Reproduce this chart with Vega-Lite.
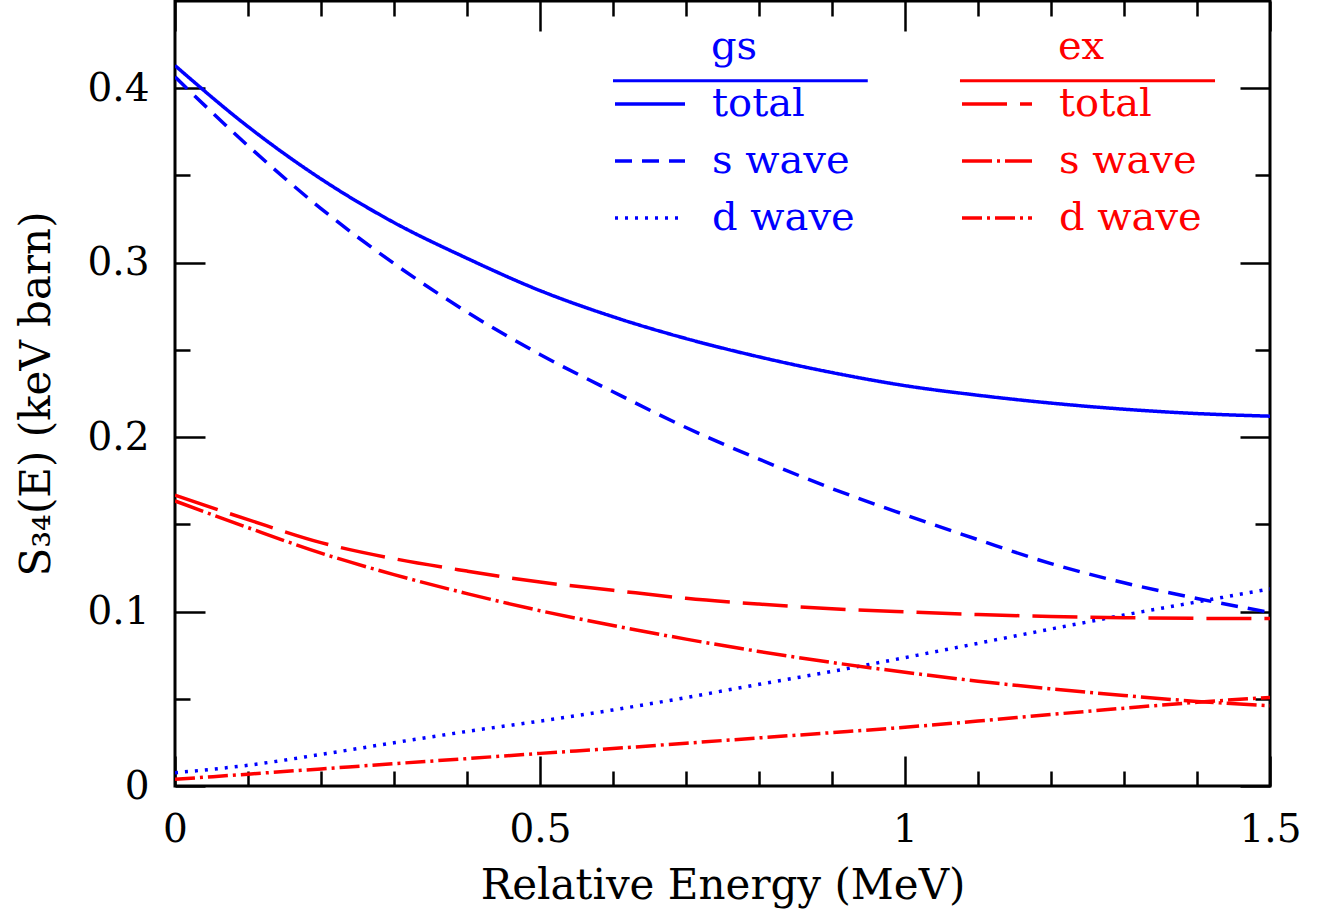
{
  "$schema": "https://vega.github.io/schema/vega-lite/v6.json",
  "width": 1095,
  "height": 785,
  "autosize": {"type": "none"},
  "padding": {"left": 175, "top": 1, "right": 66, "bottom": 130},
  "background": "white",
  "config": {
    "view": {"stroke": "black", "strokeWidth": 3},
    "axis": {
      "domain": false, "grid": false, "tickColor": "black", "tickWidth": 2.5,
      "labelFont": "DejaVu Serif", "labelFontSize": 39, "labelColor": "black",
      "titleFont": "DejaVu Serif", "titleFontSize": 42, "titleFontWeight": "normal", "titleColor": "black",
      "labelFlush": false, "labelOverlap": false
    },
    "legend": {
      "padding": 0, "symbolType": "stroke", "symbolStrokeWidth": 3.5, "symbolSize": 4900,
      "labelFont": "DejaVu Serif", "labelFontSize": 40, "labelOffset": 25,
      "titleFont": "DejaVu Serif", "titleFontSize": 40, "titleFontWeight": "normal",
      "titleAnchor": "middle", "rowPadding": -24, "titlePadding": 0
    }
  },
  "datasets": {
    "curves": [
      {"E": 0, "S": 0.413, "set": "gs", "comp": "total"},
      {"E": 0.1, "S": 0.378, "set": "gs", "comp": "total"},
      {"E": 0.2, "S": 0.348, "set": "gs", "comp": "total"},
      {"E": 0.3, "S": 0.323, "set": "gs", "comp": "total"},
      {"E": 0.4, "S": 0.3025, "set": "gs", "comp": "total"},
      {"E": 0.5, "S": 0.284, "set": "gs", "comp": "total"},
      {"E": 0.6, "S": 0.269, "set": "gs", "comp": "total"},
      {"E": 0.7, "S": 0.2565, "set": "gs", "comp": "total"},
      {"E": 0.8, "S": 0.246, "set": "gs", "comp": "total"},
      {"E": 0.9, "S": 0.237, "set": "gs", "comp": "total"},
      {"E": 1.0, "S": 0.2295, "set": "gs", "comp": "total"},
      {"E": 1.1, "S": 0.224, "set": "gs", "comp": "total"},
      {"E": 1.2, "S": 0.2195, "set": "gs", "comp": "total"},
      {"E": 1.3, "S": 0.216, "set": "gs", "comp": "total"},
      {"E": 1.4, "S": 0.2135, "set": "gs", "comp": "total"},
      {"E": 1.5, "S": 0.212, "set": "gs", "comp": "total"},
      {"E": 0, "S": 0.4065, "set": "gs", "comp": "s wave"},
      {"E": 0.1, "S": 0.367, "set": "gs", "comp": "s wave"},
      {"E": 0.2, "S": 0.331, "set": "gs", "comp": "s wave"},
      {"E": 0.3, "S": 0.2995, "set": "gs", "comp": "s wave"},
      {"E": 0.4, "S": 0.2717, "set": "gs", "comp": "s wave"},
      {"E": 0.5, "S": 0.2474, "set": "gs", "comp": "s wave"},
      {"E": 0.6, "S": 0.226, "set": "gs", "comp": "s wave"},
      {"E": 0.7, "S": 0.2055, "set": "gs", "comp": "s wave"},
      {"E": 0.8, "S": 0.1874, "set": "gs", "comp": "s wave"},
      {"E": 0.9, "S": 0.1705, "set": "gs", "comp": "s wave"},
      {"E": 1.0, "S": 0.1555, "set": "gs", "comp": "s wave"},
      {"E": 1.1, "S": 0.1412, "set": "gs", "comp": "s wave"},
      {"E": 1.2, "S": 0.1275, "set": "gs", "comp": "s wave"},
      {"E": 1.3, "S": 0.1165, "set": "gs", "comp": "s wave"},
      {"E": 1.4, "S": 0.1075, "set": "gs", "comp": "s wave"},
      {"E": 1.5, "S": 0.0995, "set": "gs", "comp": "s wave"},
      {"E": 0, "S": 0.0076, "set": "gs", "comp": "d wave"},
      {"E": 0.1, "S": 0.0119, "set": "gs", "comp": "d wave"},
      {"E": 0.2, "S": 0.0181, "set": "gs", "comp": "d wave"},
      {"E": 0.3, "S": 0.0248, "set": "gs", "comp": "d wave"},
      {"E": 0.4, "S": 0.0313, "set": "gs", "comp": "d wave"},
      {"E": 0.5, "S": 0.0372, "set": "gs", "comp": "d wave"},
      {"E": 0.6, "S": 0.0436, "set": "gs", "comp": "d wave"},
      {"E": 0.7, "S": 0.0507, "set": "gs", "comp": "d wave"},
      {"E": 0.8, "S": 0.0583, "set": "gs", "comp": "d wave"},
      {"E": 0.9, "S": 0.0657, "set": "gs", "comp": "d wave"},
      {"E": 1.0, "S": 0.0736, "set": "gs", "comp": "d wave"},
      {"E": 1.1, "S": 0.0818, "set": "gs", "comp": "d wave"},
      {"E": 1.2, "S": 0.09, "set": "gs", "comp": "d wave"},
      {"E": 1.3, "S": 0.098, "set": "gs", "comp": "d wave"},
      {"E": 1.4, "S": 0.1055, "set": "gs", "comp": "d wave"},
      {"E": 1.5, "S": 0.113, "set": "gs", "comp": "d wave"},
      {"E": 0, "S": 0.1667, "set": "ex", "comp": "total"},
      {"E": 0.1, "S": 0.1527, "set": "ex", "comp": "total"},
      {"E": 0.2, "S": 0.1395, "set": "ex", "comp": "total"},
      {"E": 0.3, "S": 0.1303, "set": "ex", "comp": "total"},
      {"E": 0.4, "S": 0.1232, "set": "ex", "comp": "total"},
      {"E": 0.5, "S": 0.1169, "set": "ex", "comp": "total"},
      {"E": 0.6, "S": 0.1122, "set": "ex", "comp": "total"},
      {"E": 0.7, "S": 0.1076, "set": "ex", "comp": "total"},
      {"E": 0.8, "S": 0.1043, "set": "ex", "comp": "total"},
      {"E": 0.9, "S": 0.1016, "set": "ex", "comp": "total"},
      {"E": 1.0, "S": 0.0998, "set": "ex", "comp": "total"},
      {"E": 1.1, "S": 0.0983, "set": "ex", "comp": "total"},
      {"E": 1.2, "S": 0.0972, "set": "ex", "comp": "total"},
      {"E": 1.3, "S": 0.0965, "set": "ex", "comp": "total"},
      {"E": 1.4, "S": 0.0961, "set": "ex", "comp": "total"},
      {"E": 1.5, "S": 0.096, "set": "ex", "comp": "total"},
      {"E": 0, "S": 0.1634, "set": "ex", "comp": "s wave"},
      {"E": 0.1, "S": 0.1481, "set": "ex", "comp": "s wave"},
      {"E": 0.2, "S": 0.1335, "set": "ex", "comp": "s wave"},
      {"E": 0.3, "S": 0.1212, "set": "ex", "comp": "s wave"},
      {"E": 0.4, "S": 0.1103, "set": "ex", "comp": "s wave"},
      {"E": 0.5, "S": 0.1005, "set": "ex", "comp": "s wave"},
      {"E": 0.6, "S": 0.092, "set": "ex", "comp": "s wave"},
      {"E": 0.7, "S": 0.0842, "set": "ex", "comp": "s wave"},
      {"E": 0.8, "S": 0.0771, "set": "ex", "comp": "s wave"},
      {"E": 0.9, "S": 0.0708, "set": "ex", "comp": "s wave"},
      {"E": 1.0, "S": 0.0652, "set": "ex", "comp": "s wave"},
      {"E": 1.1, "S": 0.0601, "set": "ex", "comp": "s wave"},
      {"E": 1.2, "S": 0.0557, "set": "ex", "comp": "s wave"},
      {"E": 1.3, "S": 0.0519, "set": "ex", "comp": "s wave"},
      {"E": 1.4, "S": 0.0485, "set": "ex", "comp": "s wave"},
      {"E": 1.5, "S": 0.046, "set": "ex", "comp": "s wave"},
      {"E": 0, "S": 0.0038, "set": "ex", "comp": "d wave"},
      {"E": 0.1, "S": 0.0068, "set": "ex", "comp": "d wave"},
      {"E": 0.2, "S": 0.0098, "set": "ex", "comp": "d wave"},
      {"E": 0.3, "S": 0.0128, "set": "ex", "comp": "d wave"},
      {"E": 0.4, "S": 0.0157, "set": "ex", "comp": "d wave"},
      {"E": 0.5, "S": 0.0187, "set": "ex", "comp": "d wave"},
      {"E": 0.6, "S": 0.0215, "set": "ex", "comp": "d wave"},
      {"E": 0.7, "S": 0.0245, "set": "ex", "comp": "d wave"},
      {"E": 0.8, "S": 0.0276, "set": "ex", "comp": "d wave"},
      {"E": 0.9, "S": 0.0306, "set": "ex", "comp": "d wave"},
      {"E": 1.0, "S": 0.0337, "set": "ex", "comp": "d wave"},
      {"E": 1.1, "S": 0.0372, "set": "ex", "comp": "d wave"},
      {"E": 1.2, "S": 0.041, "set": "ex", "comp": "d wave"},
      {"E": 1.3, "S": 0.0446, "set": "ex", "comp": "d wave"},
      {"E": 1.4, "S": 0.048, "set": "ex", "comp": "d wave"},
      {"E": 1.5, "S": 0.0508, "set": "ex", "comp": "d wave"}
    ]
  },
  "layer": [
    {
      "data": {"name": "curves"},
      "transform": [{"filter": "datum.set === 'gs'"}],
      "mark": {"type": "line", "color": "#0000ff", "strokeWidth": 3.5, "interpolate": "monotone", "clip": true},
      "encoding": {
        "x": {
          "field": "E", "type": "quantitative",
          "scale": {"domain": [0, 1.5], "nice": false, "zero": false},
          "axis": {
            "orient": "bottom",
            "values": [0, 0.1, 0.2, 0.3, 0.4, 0.5, 0.6, 0.7, 0.8, 0.9, 1, 1.1, 1.2, 1.3, 1.4, 1.5],
            "tickSize": {"condition": {"test": "round(datum.value*10) % 5 === 0", "value": -30}, "value": -15},
            "labelExpr": "round(datum.value*10) % 5 === 0 ? format(datum.value, '~g') : ''",
            "labelPadding": 54,
            "title": "Relative Energy (MeV)",
            "titlePadding": 1
          }
        },
        "y": {
          "field": "S", "type": "quantitative",
          "scale": {"domain": [0, 0.45], "nice": false, "zero": false},
          "axis": {
            "orient": "left",
            "values": [0, 0.05, 0.1, 0.15, 0.2, 0.25, 0.3, 0.35, 0.4],
            "tickSize": {"condition": {"test": "round(datum.value*100) % 10 === 0", "value": -30}, "value": -15},
            "labelExpr": "round(datum.value*100) % 10 === 0 ? format(datum.value, '~g') : ''",
            "labelPadding": 56,
            "title": "S₃₄(E) (keV barn)",
            "titlePadding": 28
          }
        },
        "strokeDash": {
          "field": "comp", "type": "nominal",
          "scale": {"domain": ["total", "s wave", "d wave"], "range": [[1, 0], [17, 10], [3, 7]]},
          "legend": {
            "title": "gs", "orient": "none", "legendX": 438, "legendY": 26, "titleLimit": 400,
            "symbolStrokeColor": "#0000ff", "labelColor": "#0000ff", "titleColor": "#0000ff"
          }
        }
      }
    },
    {
      "data": {"name": "curves"},
      "transform": [{"filter": "datum.set === 'ex'"}],
      "mark": {"type": "line", "color": "#ff0000", "strokeWidth": 3.5, "interpolate": "monotone", "clip": true},
      "encoding": {
        "x": {
          "field": "E", "type": "quantitative",
          "axis": {
            "orient": "top",
            "values": [0, 0.1, 0.2, 0.3, 0.4, 0.5, 0.6, 0.7, 0.8, 0.9, 1, 1.1, 1.2, 1.3, 1.4, 1.5],
            "tickSize": {"condition": {"test": "round(datum.value*10) % 5 === 0", "value": -30}, "value": -15},
            "labels": false, "title": null
          }
        },
        "y": {
          "field": "S", "type": "quantitative",
          "axis": {
            "orient": "right",
            "values": [0, 0.05, 0.1, 0.15, 0.2, 0.25, 0.3, 0.35, 0.4],
            "tickSize": {"condition": {"test": "round(datum.value*100) % 10 === 0", "value": -30}, "value": -15},
            "labels": false, "title": null
          }
        },
        "strokeDash": {
          "field": "comp", "type": "nominal",
          "scale": {"domain": ["total", "s wave", "d wave"], "range": [[45, 13], [30, 5, 3, 5], [20, 5, 3, 5]]},
          "legend": {
            "title": "ex", "orient": "none", "legendX": 785, "legendY": 26,
            "symbolStrokeColor": "#ff0000", "labelColor": "#ff0000", "titleColor": "#ff0000"
          }
        }
      }
    },
    {
      "data": {"values": [{}]},
      "mark": {"type": "rule", "color": "#0000ff", "strokeWidth": 3},
      "encoding": {
        "x": {"datum": 0.6, "type": "quantitative", "axis": null},
        "x2": {"datum": 0.949},
        "y": {"datum": 0.4043, "type": "quantitative", "axis": null}
      }
    },
    {
      "data": {"values": [{}]},
      "mark": {"type": "rule", "color": "#ff0000", "strokeWidth": 3},
      "encoding": {
        "x": {"datum": 1.0753, "type": "quantitative", "axis": null},
        "x2": {"datum": 1.4247},
        "y": {"datum": 0.4043, "type": "quantitative", "axis": null}
      }
    }
  ],
  "resolve": {
    "scale": {"strokeDash": "independent"},
    "axis": {"x": "independent", "y": "independent"}
  }
}
